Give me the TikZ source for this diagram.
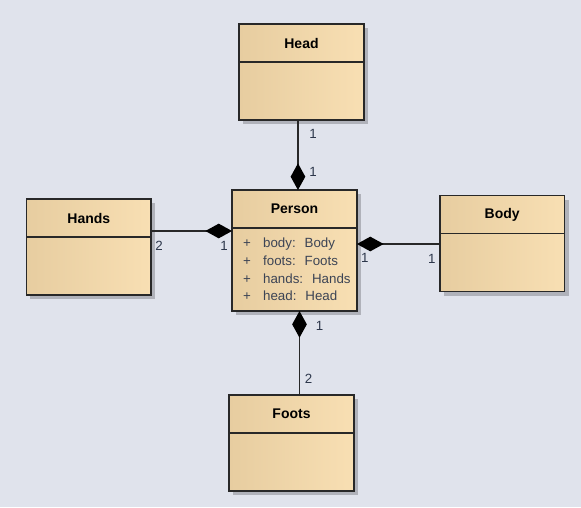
\documentclass[tikz,border=0pt]{standalone}
\usepackage{fontspec}
\setmainfont{Liberation Sans}
\definecolor{bgblue}{RGB}{224,227,236}
\definecolor{boxleft}{RGB}{231,205,160}
\definecolor{boxright}{RGB}{248,223,179}
\definecolor{boxline}{RGB}{40,40,40}
\definecolor{shadowgray}{RGB}{176,178,186}
\definecolor{multtext}{RGB}{45,55,75}
\definecolor{attrtext}{RGB}{60,68,85}
\usetikzlibrary{positioning, calc, arrows.meta, shadows}

\begin{document}
\begin{tikzpicture}[
        node distance=1cm,
        cls/.style={rectangle, draw=boxline, line width=1.3pt, outer sep=0pt, left color=boxleft, right color=boxright, minimum width=93.5pt, drop shadow={shadow xshift=3pt, shadow yshift=-3pt, fill=shadowgray, opacity=1}},
        clstitle/.style={cls, minimum height=28.5pt, font=\fontsize{10.5}{12}\selectfont\bfseries},
        clsbody/.style={cls, minimum height=43.5pt},
        attrs/.style={cls, minimum height=62.25pt, text width=87pt, align=left, text=attrtext, font=\fontsize{10}{13.2}\selectfont},
        compose/.style={-{Diamond[length=20pt, width=11pt, color=black]}, draw=boxline, line width=1.3pt},
        mult/.style={text=multtext, font=\fontsize{10}{12}\selectfont, inner sep=0pt}
    ]
        % Canvas
        \fill[bgblue] (-220.875pt,156.75pt) rectangle (214.875pt,-223.5pt);
        \useasboundingbox (-220.875pt,156.75pt) rectangle (214.875pt,-223.5pt);

        % Classes
        \node[clstitle] (person) at (0,0) {Person};
        \node[attrs, below=0pt of person] (personattr) {\hspace*{5pt}\makebox[15pt][l]{+}body:\ \ Body\\\hspace*{5pt}\makebox[15pt][l]{+}foots:\ \ Foots\\\hspace*{5pt}\makebox[15pt][l]{+}hands:\ \ Hands\\\hspace*{5pt}\makebox[15pt][l]{+}head:\ \ Head};

        \node[clstitle, above=96pt of person, xshift=5.25pt] (head) {Head};
        \node[clsbody, below=0pt of head] (headattr) {};

        \node[clstitle, left=60.75pt of person, yshift=-6.75pt] (hands) {Hands};
        \node[clsbody, below=0pt of hands] (handsattr) {};

        \node[clstitle, right=62.25pt of person, yshift=-4.125pt] (body) {Body};
        \node[clsbody, below=0pt of body] (bodyattr) {};

        \node[clstitle, below=63pt of personattr, xshift=-2.25pt] (foots) {Foots};
        \node[clsbody, below=0pt of foots] (footsattr) {};

        % Compositions
        \draw[compose] ($(headattr.south)+(-2.6pt,0)$) -- ($(person.north)+(2.6pt,0)$)
            node[mult, pos=0, xshift=11.25pt, yshift=-10.5pt] {1}
            node[mult, pos=1, xshift=11.25pt, yshift=13.5pt] {1};
        \draw[compose] ($(hands.east)+(0,-9.75pt)$) -- ($(personattr.west)+(0,28.875pt)$)
            node[mult, pos=0, xshift=6pt, yshift=-11.25pt] {2}
            node[mult, pos=1, xshift=-6pt, yshift=-11.25pt] {1};
        \draw[compose] ($(bodyattr.west)+(0,13.875pt)$) -- ($(personattr.east)+(0,19.125pt)$)
            node[mult, pos=0, xshift=-6pt, yshift=-11.25pt] {1}
            node[mult, pos=1, xshift=6pt, yshift=-10.5pt] {1};
        \draw[compose] ($(foots.north)+(6pt,0)$) -- ($(personattr.south)+(3.75pt,0)$)
            node[mult, pos=0, xshift=6.75pt, yshift=12pt] {2}
            node[mult, pos=1, xshift=15pt, yshift=-11.25pt] {1};
    \end{tikzpicture}
\end{document}
